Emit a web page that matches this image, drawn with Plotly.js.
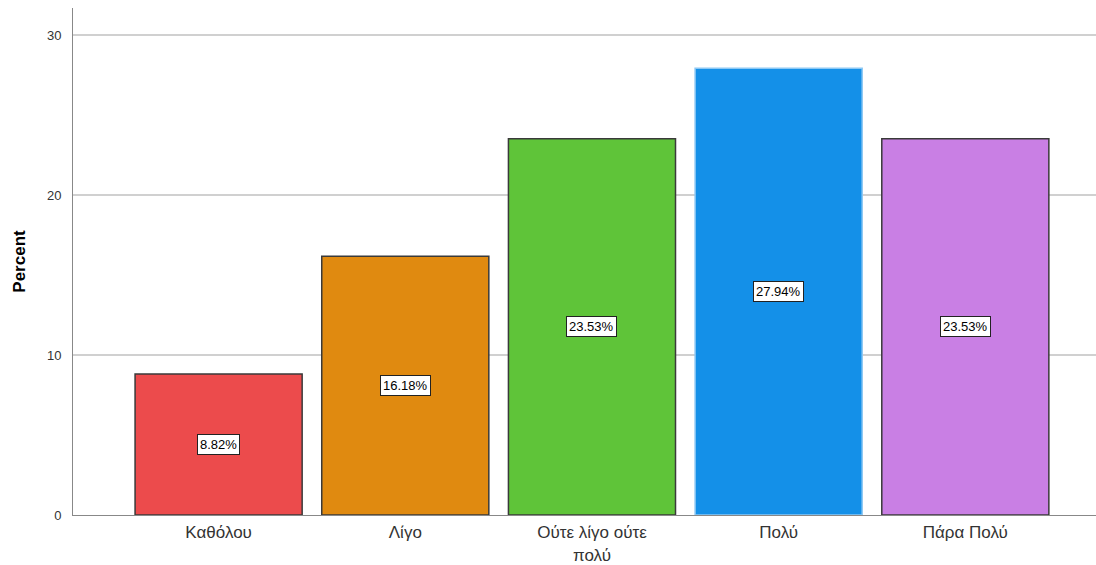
<!DOCTYPE html>
<html>
<head>
<meta charset="utf-8">
<script src="https://cdn.plot.ly/plotly-3.0.1.min.js"></script>
<style>
  html, body { margin: 0; padding: 0; background: #fff; }
  #chart { width: 1096px; height: 565px; }
</style>
</head>
<body>
<div id="chart"></div>
<script>
// Response categories and their share of answers (percent)
const categories = ["Καθόλου", "Λίγο", "Ούτε λίγο ούτε<br>πολύ", "Πολύ", "Πάρα Πολύ"];
const percents = [8.82, 16.18, 23.53, 27.94, 23.53];
const barColors = ["#ec4b4c", "#e08a10", "#5fc439", "#1490e8", "#c97fe4"];
const barEdges = ["#3a3a3a", "#3a3a3a", "#3a3a3a", "#8cc8f4", "#3a3a3a"];
const yTicks = [0, 10, 20, 30];

const trace = {
  type: "bar",
  x: categories,
  y: percents,
  marker: { color: barColors, line: { color: barEdges, width: 1.5 } },
  hoverinfo: "x+y"
};

// Value boxes sit in the middle of each bar
const labels = categories.map((c, i) => ({
  x: c,
  y: percents[i] / 2,
  xref: "x",
  yref: "y",
  text: percents[i].toFixed(2) + "%",
  showarrow: false,
  font: { family: "Liberation Sans, Arial, sans-serif", size: 13, color: "#000" },
  bgcolor: "#ffffff",
  bordercolor: "#222",
  borderwidth: 1,
  borderpad: 2
}));

const layout = {
  width: 1096,
  height: 565,
  margin: { l: 73, r: 0, t: 8, b: 50 },
  paper_bgcolor: "#fff",
  plot_bgcolor: "#fff",
  showlegend: false,
  bargap: 0.105,
  xaxis: {
    type: "category",
    range: [-0.78, 4.70],
    showgrid: false,
    showline: true,
    linecolor: "#888",
    linewidth: 1,
    ticks: "",
    ticklabelstandoff: 2,
    tickfont: { family: "Liberation Sans, Arial, sans-serif", size: 17, color: "#333" },
    fixedrange: true
  },
  yaxis: {
    range: [0, 31.7],
    tickvals: yTicks,
    ticktext: yTicks.map(String),
    showgrid: true,
    gridcolor: "#d0d0d0",
    gridwidth: 2,
    zeroline: false,
    showline: true,
    linecolor: "#888",
    linewidth: 1,
    ticks: "",
    ticklabelstandoff: 8,
    tickfont: { family: "Liberation Sans, Arial, sans-serif", size: 13, color: "#333" },
    title: {
      text: "<b>Percent</b>",
      font: { family: "Liberation Sans, Arial, sans-serif", size: 17, color: "#000" },
      standoff: 16
    },
    fixedrange: true
  },
  annotations: labels
};

Plotly.newPlot("chart", [trace], layout, { displayModeBar: false, staticPlot: true });
</script>
</body>
</html>
